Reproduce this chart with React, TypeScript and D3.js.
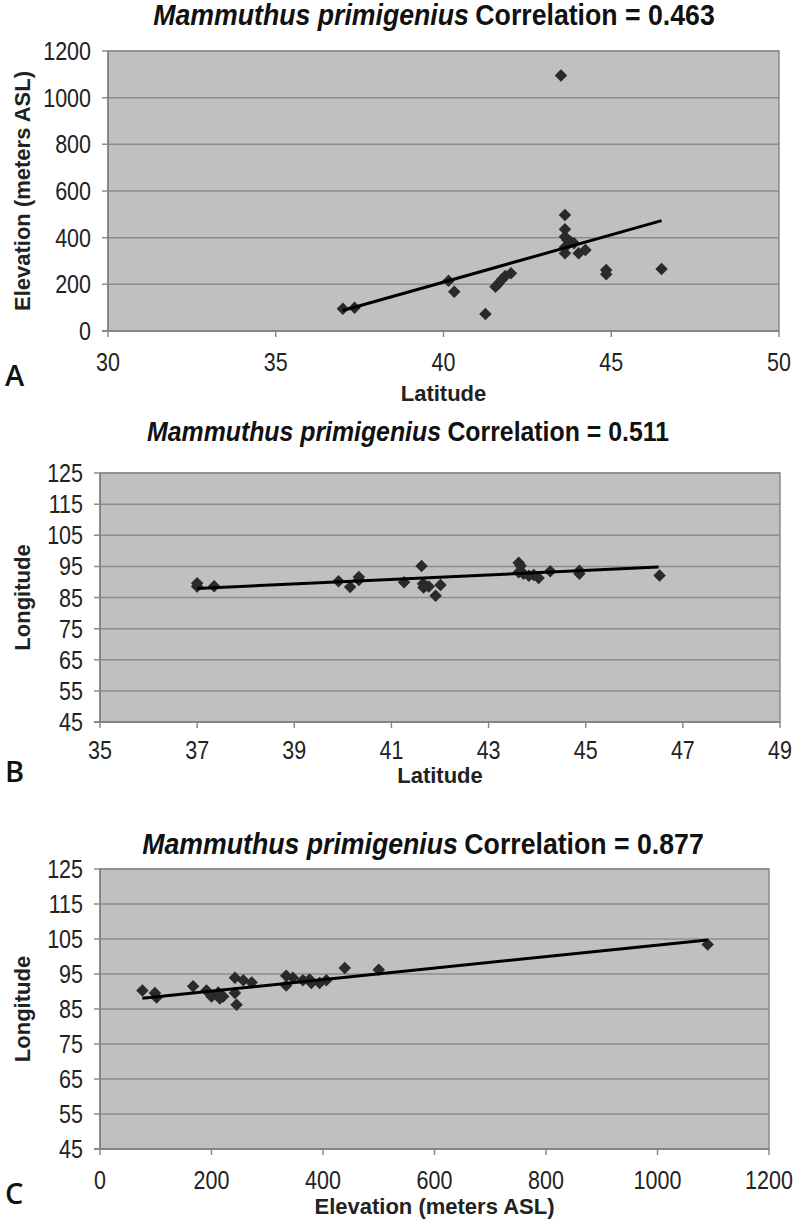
import React from "react";
import * as d3 from "d3";

// Panel A: latitude vs elevation
const latA = [37.0, 37.35, 40.15, 40.32, 41.25, 41.55, 41.64, 41.74, 41.84, 42.01, 43.5, 43.62, 43.62, 43.62, 43.69, 43.79, 43.89, 43.62, 43.62, 44.03, 44.23, 44.85, 44.85, 46.5];
const elevA = [95, 100, 215, 168, 73, 190, 204, 221, 236, 247, 1095, 497, 436, 404, 390, 383, 376, 359, 333, 333, 347, 261, 243, 266];
const trendA: [number, number][] = [[37.0, 88], [46.5, 473]];

// Panel B: latitude vs longitude
const latB = [37.0, 37.0, 37.35, 39.91, 40.15, 40.33, 40.33, 41.26, 41.62, 41.65, 41.66, 41.7, 41.77, 41.91, 42.01, 43.62, 43.66, 43.62, 43.72, 43.83, 43.93, 44.03, 44.27, 44.87, 44.87, 46.52];
const lonB = [89.6, 88.5, 88.6, 90.2, 88.4, 91.6, 90.6, 89.9, 95.1, 89.4, 88.2, 88.8, 88.5, 85.6, 89.0, 96.2, 95.2, 93.1, 92.6, 92.0, 92.2, 91.3, 93.4, 93.6, 92.6, 92.1];
const trendB: [number, number][] = [[37.0, 87.9], [46.5, 94.8]];

// Panel C: elevation vs longitude
const elevC = [76, 98.5, 101.5, 167, 191, 200, 212, 215, 221, 242, 242, 245, 257, 272, 334, 334, 346, 364, 376, 379, 394, 406, 439, 500, 1090];
const lonC = [90.3, 89.6, 88.3, 91.5, 90.3, 88.6, 89.7, 88.0, 88.6, 93.9, 89.6, 86.2, 93.2, 92.6, 94.5, 91.7, 93.9, 93.2, 93.4, 92.4, 92.4, 93.2, 96.7, 96.2, 103.4];
const trendC: [number, number][] = [[76, 88.1], [1090, 104.7]];

const latTicksA = [30, 35, 40, 45, 50];
const elevTicks = [0, 200, 400, 600, 800, 1000, 1200];
const latTicksB = [35, 37, 39, 41, 43, 45, 47, 49];
const lonTicks = [45, 55, 65, 75, 85, 95, 105, 115, 125];

const font = "'Liberation Sans', Arial, sans-serif";

interface PanelProps {
  xs: number[];
  ys: number[];
  trend: [number, number][];
  xTicks: number[];
  yTicks: number[];
  box: { left: number; right: number; top: number; bottom: number };
  corr: string;
  titleX: number;
  titleY: number;
  titleSize: number;
  xTitle: string;
  yTitle: string;
  xLabelDy: number;
  xTitleDy: number;
  letter: string;
  letterY: number;
}

const Panel: React.FC<PanelProps> = ({
  xs, ys, trend, xTicks, yTicks, box, corr, titleX, titleY, titleSize,
  xTitle, yTitle, xLabelDy, xTitleDy, letter, letterY,
}) => {
  const x = d3.scaleLinear()
    .domain([xTicks[0], xTicks[xTicks.length - 1]])
    .range([box.left, box.right]);
  const y = d3.scaleLinear()
    .domain([yTicks[0], yTicks[yTicks.length - 1]])
    .range([box.bottom, box.top]);
  const line = d3.line<[number, number]>().x((d) => x(d[0])).y((d) => y(d[1]));
  const diamond = d3.symbol(d3.symbolSquare, 78)();
  const cx = (box.left + box.right) / 2;
  const cy = (box.top + box.bottom) / 2;

  return (
    <g>
      <text transform={`translate(${titleX},${titleY}) scale(0.92,1)`} textAnchor="middle" fontFamily={font} fontWeight="bold" fontSize={titleSize} fill="#111">
        <tspan fontStyle="italic">Mammuthus primigenius</tspan>
        <tspan dx={7}>{`Correlation = ${corr}`}</tspan>
      </text>
      <rect x={box.left} y={box.top} width={box.right - box.left} height={box.bottom - box.top} fill="#c0c0c0" stroke="#8a8a8a" strokeWidth={1.5} />
      {yTicks.map((t) => (
        <line key={"g" + t} x1={box.left - 6} x2={box.right} y1={y(t)} y2={y(t)} stroke="#8c8c8c" strokeWidth={1.5} />
      ))}
      {xTicks.map((t) => (
        <line key={"t" + t} x1={x(t)} x2={x(t)} y1={box.bottom} y2={box.bottom + 6} stroke="#8c8c8c" strokeWidth={1.5} />
      ))}
      <line x1={box.left} x2={box.left} y1={box.top} y2={box.bottom} stroke="#808080" strokeWidth={1.5} />
      <line x1={box.left - 6} x2={box.right} y1={box.bottom} y2={box.bottom} stroke="#808080" strokeWidth={1.5} />
      {yTicks.map((t) => (
        <text key={"yl" + t} transform={`translate(${box.left - 17},${y(t)}) scale(0.86,1)`} dy="0.36em" textAnchor="end" fontFamily={font} fontSize={25} fill="#222">{t}</text>
      ))}
      {xTicks.map((t) => (
        <text key={"xl" + t} transform={`translate(${x(t)},${box.bottom + xLabelDy}) scale(0.86,1)`} dy="0.36em" textAnchor="middle" fontFamily={font} fontSize={25} fill="#222">{t}</text>
      ))}
      {xs.map((v, i) => (
        <path key={"p" + i} d={diamond} transform={`translate(${x(v)},${y(ys[i])}) rotate(45)`} fill="#2a2a2a" />
      ))}
      <path d={line(trend) || ""} fill="none" stroke="#000" strokeWidth={3} />
      <text x={cx} y={box.bottom + xTitleDy} textAnchor="middle" fontFamily={font} fontWeight="bold" fontSize={22} fill="#222">{xTitle}</text>
      <text transform={`translate(30,${cy}) rotate(-90)`} textAnchor="middle" fontFamily={font} fontWeight="bold" fontSize={22} fill="#222">{yTitle}</text>
      <text x={5} y={letterY} fontFamily="'Open Sans', sans-serif" fontWeight={600} fontSize={29} fill="#111">{letter}</text>
    </g>
  );
};

export default function App() {
  return (
    <svg width={797} height={1222} style={{ position: "absolute", left: 0, top: 0, background: "#fff" }}>
      <Panel
        xs={latA} ys={elevA} trend={trendA} xTicks={latTicksA} yTicks={elevTicks}
        box={{ left: 108, right: 779, top: 51, bottom: 331 }}
        corr="0.463" titleX={434} titleY={25} titleSize={29}
        xTitle="Latitude" yTitle="Elevation (meters ASL)"
        xLabelDy={31} xTitleDy={70} letter="A" letterY={386}
      />
      <Panel
        xs={latB} ys={lonB} trend={trendB} xTicks={latTicksB} yTicks={lonTicks}
        box={{ left: 100, right: 780, top: 473, bottom: 722 }}
        corr="0.511" titleX={408} titleY={441} titleSize={27}
        xTitle="Latitude" yTitle="Longitude"
        xLabelDy={28} xTitleDy={61} letter="B" letterY={782}
      />
      <Panel
        xs={elevC} ys={lonC} trend={trendC} xTicks={elevTicks} yTicks={lonTicks}
        box={{ left: 100, right: 769, top: 869, bottom: 1149 }}
        corr="0.877" titleX={423} titleY={854} titleSize={29}
        xTitle="Elevation (meters ASL)" yTitle="Longitude"
        xLabelDy={31} xTitleDy={65} letter="C" letterY={1204}
      />
    </svg>
  );
}
